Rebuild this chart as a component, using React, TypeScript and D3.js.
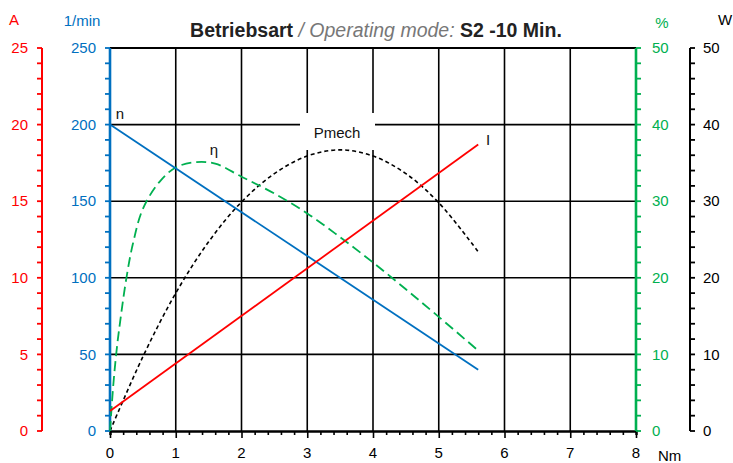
import { useRef, useEffect } from 'react';
import * as d3 from 'd3';

const nTorque = [0, 5.6];
const nSpeed = [200, 40];

const iTorque = [0, 5.6];
const iCurrent = [1.3, 18.7];

const etaTorque = [0, 0.05, 0.1, 0.15, 0.25, 0.35, 0.5, 0.75, 1, 1.3, 1.6, 2, 2.5, 3, 3.5, 4, 4.5, 5, 5.6];
const etaValues = [0, 6, 10.5, 14, 20, 24.5, 29, 32.5, 34.4, 35.1, 34.9, 33.2, 31, 28.4, 25.3, 22, 18.5, 14.9, 10.5];

const pTorque = [0, 0.5, 1, 1.5, 2, 2.5, 3, 3.5, 4, 4.5, 5, 5.6];
const pValues = [0, 9.7, 18, 24.7, 29.9, 33.6, 35.9, 36.7, 35.9, 33.6, 29.8, 23.4];

const torqueTicks = [0, 1, 2, 3, 4, 5, 6, 7, 8];
const speedTicks = [0, 50, 100, 150, 200, 250];
const currentTicks = [0, 5, 10, 15, 20, 25];
const pctTicks = [0, 10, 20, 30, 40, 50];

const RED = '#ff0000';
const BLUE = '#0070c0';
const GREEN = '#00b050';
const FONT = '"Liberation Sans", Arial, sans-serif';

const App = () => {
  const svgRef = useRef(null);

  useEffect(() => {
    const svg = d3.select(svgRef.current);
    svg.selectAll('*').remove();
    const width = 733;
    const height = 463;

    svg.attr('width', width).attr('height', height)
      .style('font-family', FONT);

    const x = d3.scaleLinear([0, 8], [110, 636]);
    const yN = d3.scaleLinear([0, 250], [431, 48]);
    const yI = d3.scaleLinear([0, 25], [431, 48]);
    const yP = d3.scaleLinear([0, 50], [431, 48]);

    // grid
    const grid = svg.append('g').attr('stroke', '#000').attr('stroke-width', 1.6);
    grid.selectAll('line.v')
      .data(torqueTicks.slice(1, -1))
      .join('line')
      .attr('x1', d => x(d)).attr('x2', d => x(d))
      .attr('y1', yN(250)).attr('y2', yN(0));
    grid.selectAll('line.h')
      .data(speedTicks.slice(1, -1))
      .join('line')
      .attr('x1', x(0)).attr('x2', x(8))
      .attr('y1', d => yN(d)).attr('y2', d => yN(d));
    svg.append('line')
      .attr('x1', x(0)).attr('x2', x(8))
      .attr('y1', yN(250)).attr('y2', yN(250))
      .attr('stroke', '#000').attr('stroke-width', 2.2);

    // Pmech label box covers the grid
    svg.append('rect')
      .attr('x', 300).attr('y', 113).attr('width', 75).attr('height', 37)
      .attr('fill', '#fff');

    // bottom axis
    const bottom = svg.append('g').attr('transform', `translate(0,${yN(0)})`);
    bottom.call(d3.axisBottom(x).tickValues(d3.range(0, 8.001, 0.2)).tickSize(4).tickFormat(() => ''));
    bottom.call(g => g.selectAll('.tick').filter(d => Math.abs(d - Math.round(d)) < 1e-6).select('line').attr('y2', 7));
    bottom.select('.domain').attr('stroke-width', 2.4);
    bottom.selectAll('line').attr('stroke-width', 1.6);
    svg.append('g').selectAll('text')
      .data(torqueTicks)
      .join('text')
      .attr('x', d => x(d)).attr('y', 458)
      .attr('text-anchor', 'middle')
      .attr('font-size', 15)
      .text(d => d);
    svg.append('text').attr('x', 658).attr('y', 461).attr('font-size', 15).text('Nm');

    const sideAxis = (xPos, scale, ticks, minor, color, side, labelX, anchor, width) => {
      const g = svg.append('g');
      g.append('line')
        .attr('x1', xPos).attr('x2', xPos)
        .attr('y1', scale.range()[1]).attr('y2', scale.range()[0])
        .attr('stroke', color).attr('stroke-width', width);
      const dom = scale.domain();
      g.selectAll('line.t')
        .data(d3.range(dom[0], dom[1] + minor / 2, minor))
        .join('line')
        .attr('x1', xPos).attr('x2', xPos + side * 5)
        .attr('y1', d => scale(d)).attr('y2', d => scale(d))
        .attr('stroke', color).attr('stroke-width', 1.8);
      g.selectAll('text')
        .data(ticks)
        .join('text')
        .attr('x', labelX).attr('y', d => scale(d))
        .attr('dy', '0.35em')
        .attr('text-anchor', anchor)
        .attr('font-size', 15)
        .attr('fill', color)
        .text(d => d);
    };

    sideAxis(42, yI, currentTicks, 1, RED, -1, 28, 'end', 2);
    sideAxis(110, yN, speedTicks, 10, BLUE, -1, 96, 'end', 2.6);
    sideAxis(636, yP, pctTicks, 2, GREEN, 1, 652, 'start', 2.6);
    sideAxis(690, yP, pctTicks, 2, '#000', 1, 703, 'start', 2);

    // axis titles
    const titles = [
      { t: 'A', x: 14, y: 25, c: RED },
      { t: '1/min', x: 82, y: 26, c: BLUE },
      { t: '%', x: 662, y: 28, c: GREEN },
      { t: 'W', x: 725, y: 25, c: '#000' },
    ];
    svg.append('g').selectAll('text')
      .data(titles)
      .join('text')
      .attr('x', d => d.x).attr('y', d => d.y)
      .attr('text-anchor', 'middle')
      .attr('font-size', 15)
      .attr('fill', d => d.c)
      .text(d => d.t);

    // chart title
    const title = svg.append('text')
      .attr('x', 376).attr('y', 37)
      .attr('text-anchor', 'middle')
      .attr('font-size', 19.5)
      .attr('fill', '#222');
    title.append('tspan').attr('font-weight', 'bold').text('Betriebsart');
    title.append('tspan').attr('font-style', 'italic').attr('fill', '#777').text(' / Operating mode: ');
    title.append('tspan').attr('font-weight', 'bold').text('S2 -10 Min.');

    // curves
    const line = (xs, ys, yScale, curve) => d3.line()
      .x((d, i) => x(xs[i]))
      .y(d => yScale(d))
      .curve(curve)(ys);

    svg.append('path')
      .attr('d', line(pTorque, pValues, yP, d3.curveCatmullRom))
      .attr('fill', 'none').attr('stroke', '#000').attr('stroke-width', 1.6)
      .attr('stroke-dasharray', '4 3');
    svg.append('path')
      .attr('d', line(etaTorque, etaValues, yP, d3.curveCatmullRom))
      .attr('fill', 'none').attr('stroke', GREEN).attr('stroke-width', 1.8)
      .attr('stroke-dasharray', '10 5');
    svg.append('path')
      .attr('d', line(nTorque, nSpeed, yN, d3.curveLinear))
      .attr('fill', 'none').attr('stroke', BLUE).attr('stroke-width', 1.8);
    svg.append('path')
      .attr('d', line(iTorque, iCurrent, yI, d3.curveLinear))
      .attr('fill', 'none').attr('stroke', RED).attr('stroke-width', 1.8);

    // curve labels
    const labels = [
      { t: 'n', x: 120, y: 119 },
      { t: 'η', x: 214, y: 155 },
      { t: 'Pmech', x: 337, y: 138 },
      { t: 'I', x: 488, y: 145 },
    ];
    svg.append('g').selectAll('text')
      .data(labels)
      .join('text')
      .attr('x', d => d.x).attr('y', d => d.y)
      .attr('text-anchor', 'middle')
      .attr('font-size', 15)
      .attr('fill', '#111')
      .text(d => d.t);
  }, []);

  return (
    <svg ref={svgRef} style={{ position: 'absolute', left: 0, top: 0 }}></svg>
  );
};

export default App;
